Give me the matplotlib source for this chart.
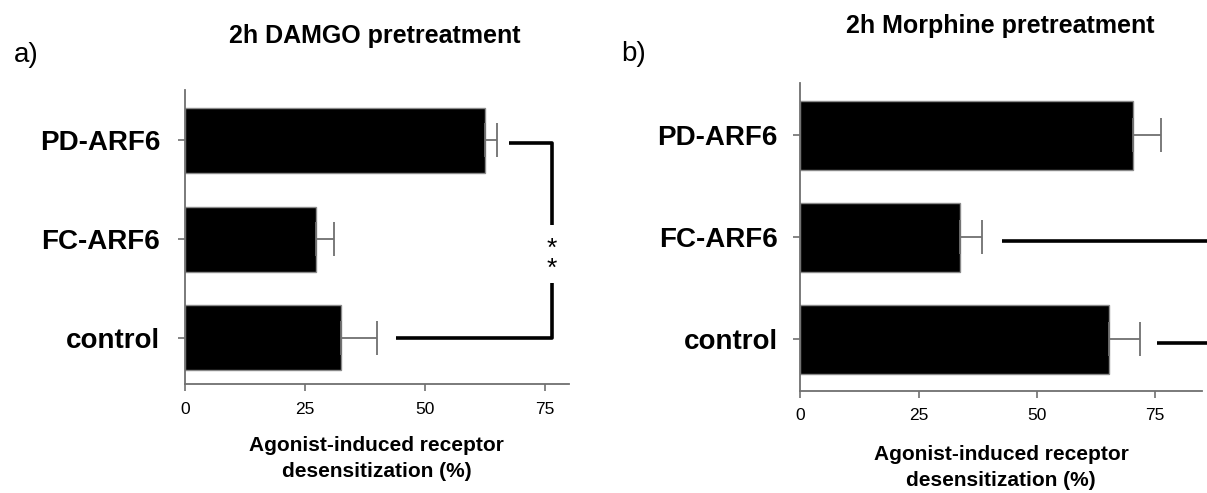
import numpy as np
import matplotlib
matplotlib.use("Agg")
import matplotlib.pyplot as plt

plt.rcParams['font.family'] = ['Liberation Sans', 'DejaVu Sans']

categorias = ['control', 'FC-ARF6', 'PD-ARF6']

# 2h DAMGO
damgo_media = [32.6, 27.4, 62.6]
damgo_erro = [7.4, 3.6, 2.4]

# 2h Morphine
morfina_media = [65.3, 33.7, 70.4]
morfina_erro = [6.5, 4.8, 5.9]

xticks = [0, 25, 50, 75]

cinza = '#707070'


def Painel(ax, medias, erros, xmax, ylim, altura, pad_y, pad_lbl):
    pos = np.arange(len(categorias))
    ax.barh(pos, medias, height=altura, color='black', edgecolor='#8a8a8a',
            linewidth=1.0, zorder=2)
    ax.errorbar(medias, pos, xerr=[np.zeros(len(erros)), erros], fmt='none',
                ecolor=cinza, elinewidth=1.3, capsize=12, capthick=1.3, zorder=3)
    ax.set_xlim(0, xmax)
    ax.set_ylim(*ylim)
    ax.set_yticks(pos)
    ax.set_yticklabels(categorias, fontsize=20, fontweight='bold')
    ax.set_xticks(xticks)
    ax.set_xticklabels([str(t) for t in xticks], fontsize=12.5)
    ax.tick_params(axis='y', length=5, width=1.2, color=cinza, pad=pad_y)
    ax.tick_params(axis='x', length=5, width=1.2, color=cinza, pad=7.5)
    for lado in ['top', 'right']:
        ax.spines[lado].set_visible(False)
    for lado in ['left', 'bottom']:
        ax.spines[lado].set_color(cinza)
        ax.spines[lado].set_linewidth(1.3)
    ax.set_xlabel('Agonist-induced receptor\ndesensitization (%)', fontsize=15,
                  fontweight='bold', linespacing=1.45, labelpad=pad_lbl)


fig = plt.figure(figsize=(12.07, 4.93), dpi=100)

ax1 = fig.add_axes([0.1533, 0.2205, 0.3179, 0.5969])
Painel(ax1, damgo_media, damgo_erro, 80, (-0.47, 2.51), 0.66, 13, 14)

ax2 = fig.add_axes([0.6632, 0.2075, 0.3327, 0.6248])
Painel(ax2, morfina_media, morfina_erro, 85, (-0.506, 2.518), 0.68, 11.5, 16)

# colchete de significancia (a)
lw = 2.6
ax1.plot([67.6, 76.5, 76.5], [1.973, 1.973, 1.14], color='black', lw=lw,
         clip_on=False, solid_capstyle='butt')
ax1.plot([43.9, 76.5, 76.5], [-0.006, -0.006, 0.553], color='black', lw=lw,
         clip_on=False, solid_capstyle='butt')
ax1.text(76.5, 0.80, '*\n*', fontsize=19, ha='center', va='center',
         linespacing=0.75)

# linhas cortadas (b)
ax2.plot([42.7, 95], [0.964, 0.964], color='black', lw=lw, clip_on=False,
         solid_capstyle='butt')
ax2.plot([75.5, 95], [-0.034, -0.034], color='black', lw=lw, clip_on=False,
         solid_capstyle='butt')

fig.text(0.3107, 0.9134, '2h DAMGO pretreatment', fontsize=18,
         fontweight='bold', ha='center', va='baseline')
fig.text(0.8283, 0.9324, '2h Morphine pretreatment', fontsize=18,
         fontweight='bold', ha='center', va='baseline')
fig.text(0.0215, 0.888, 'a)', fontsize=20, ha='center', va='center')
fig.text(0.525, 0.890, 'b)', fontsize=20, ha='center', va='center')

fig.savefig('out.png', dpi=100)
